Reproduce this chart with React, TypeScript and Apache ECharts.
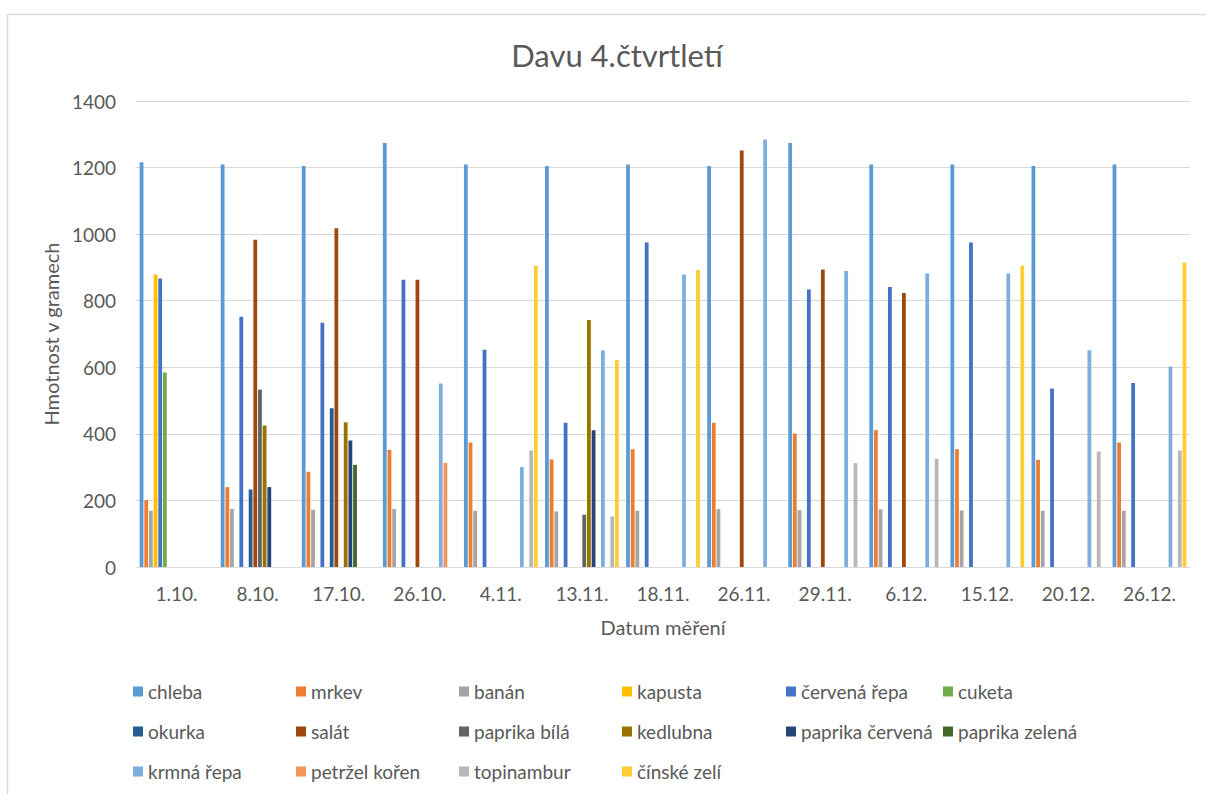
import React, { useEffect, useRef } from "react";
import * as echarts from "echarts";

const categories = ["1.10.", "8.10.", "17.10.", "26.10.", "4.11.", "13.11.", "18.11.", "26.11.", "29.11.", "6.12.", "15.12.", "20.12.", "26.12."];
const seriesNames = ["chleba", "mrkev", "banán", "kapusta", "červená řepa", "cuketa", "okurka", "salát", "paprika bílá", "kedlubna", "paprika červená", "paprika zelená", "krmná řepa", "petržel kořen", "topinambur", "čínské zelí"];
const seriesColors = ["#5B9BD5", "#ED7D31", "#A5A5A5", "#FFC000", "#4472C4", "#70AD47", "#255E91", "#9E480E", "#636363", "#997300", "#264478", "#43682B", "#7CAFDD", "#F1975A", "#B7B7B7", "#FFCD33"];

const chleba = [1216, 1209, 1205, 1274, 1209, 1205, 1209, 1205, 1274, 1209, 1209, 1205, 1209];
const mrkev = [201, 240, 286, 352, 374, 323, 354, 433, 401, 411, 354, 322, 374];
const banan = [169, 174, 172, 174, 169, 167, 169, 174, 171, 173, 170, 169, 169];
const kapusta = [879, null, null, null, null, null, null, null, null, null, null, null, null];
const cervenaRepa = [867, 752, 734, 863, 653, 433, 975, null, 834, 841, 975, 536, 553];
const cuketa = [584, null, null, null, null, null, null, null, null, null, null, null, null];
const okurka = [null, 233, 477, null, null, null, null, null, null, null, null, null, null];
const salat = [null, 983, 1018, 863, null, null, null, 1251, 894, 823, null, null, null];
const paprikaBila = [null, 533, null, null, null, 157, null, null, null, null, null, null, null];
const kedlubna = [null, 425, 435, null, null, 742, null, null, null, null, null, null, null];
const paprikaCervena = [null, 240, 380, null, null, 411, null, null, null, null, null, null, null];
const paprikaZelena = [null, null, 307, null, null, null, null, null, null, null, null, null, null];
const krmnaRepa = [null, null, null, 551, 300, 651, 879, 1284, 889, 882, 882, 651, 602];
const petrzelKoren = [null, null, null, 313, null, null, null, null, null, null, null, null, null];
const topinambur = [null, null, null, null, 350, 152, null, null, 312, 325, null, 347, 350];
const cinskeZeli = [null, null, null, null, 905, 622, 892, null, null, null, 905, null, 915];

const seriesValues = [chleba, mrkev, banan, kapusta, cervenaRepa, cuketa, okurka, salat, paprikaBila, kedlubna, paprikaCervena, paprikaZelena, krmnaRepa, petrzelKoren, topinambur, cinskeZeli];

const yTicks = { min: 0, max: 1400, interval: 200 };

const FONT = "Lato, 'Noto Sans', sans-serif";
const TEXT = "#595959";

export default function App() {
  const ref = useRef<HTMLDivElement>(null);
  useEffect(() => {
    if (!ref.current) return;
    const chart = echarts.init(ref.current, null, { renderer: "svg" });
    const legendCols = [133, 296, 459, 622, 786, 943];
    const legendRows = [682, 722, 762];
    const legends = seriesNames.map((name, i) => ({
      show: true,
      data: [name],
      left: legendCols[i % 6],
      top: legendRows[Math.floor(i / 6)],
      itemWidth: 10,
      itemHeight: 10,
      itemGap: 5,
      icon: "rect",
      padding: 0,
      textStyle: { fontFamily: FONT, fontSize: 19, color: TEXT },
    }));
    chart.setOption({
      animation: false,
      backgroundColor: "#ffffff",
      color: seriesColors,
      textStyle: { fontFamily: FONT },
      graphic: [
        {
          type: "rect",
          shape: { x: 7.5, y: 14.5, width: 1240, height: 820 },
          style: { fill: "none", stroke: "#D9D9D9", lineWidth: 1.5 },
          silent: true,
          z: -10,
        },
        {
          type: "text",
          x: 617,
          y: 55,
          style: {
            text: "Davu 4.čtvrtletí",
            fontFamily: FONT,
            fontSize: 31,
            fill: TEXT,
            textAlign: "center",
            textVerticalAlign: "middle",
          },
        },
      ],
      legend: legends,
      grid: { left: 136, right: 16, top: 101, bottom: 227, containLabel: false },
      xAxis: {
        type: "category",
        data: categories,
        name: "Datum měření",
        nameLocation: "middle",
        nameGap: 50,
        nameTextStyle: { fontFamily: FONT, fontSize: 20, color: TEXT },
        axisLine: { show: true, lineStyle: { color: "#D9D9D9", width: 1 } },
        axisTick: { show: false },
        axisLabel: { fontFamily: FONT, fontSize: 19, color: TEXT, margin: 17 },
      },
      yAxis: {
        type: "value",
        min: yTicks.min,
        max: yTicks.max,
        interval: yTicks.interval,
        name: "Hmotnost v gramech",
        nameLocation: "middle",
        nameGap: 71,
        nameRotate: 90,
        nameTextStyle: { fontFamily: FONT, fontSize: 20, color: TEXT },
        axisLine: { show: false },
        axisTick: { show: false },
        splitLine: { lineStyle: { color: "#D9D9D9", width: 1 } },
        axisLabel: {
          fontFamily: FONT,
          fontSize: 19,
          color: TEXT,
          margin: 20,
          formatter: (v: number) => String(v),
        },
      },
      series: seriesNames.map((name, i) => ({
        name,
        type: "bar",
        data: seriesValues[i],
        barGap: "23%",
        barCategoryGap: "9%",
        itemStyle: { color: seriesColors[i] },
      })),
    });
    return () => chart.dispose();
  }, []);
  return (
    <div
      ref={ref}
      style={{ position: "absolute", left: 0, top: 0, width: 1206, height: 794 }}
    />
  );
}
